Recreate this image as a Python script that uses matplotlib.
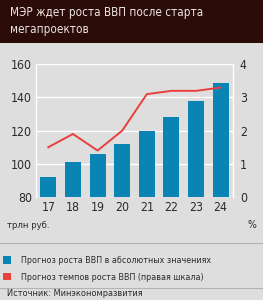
import matplotlib.pyplot as plt
from matplotlib.patches import Rectangle, Patch
from matplotlib.lines import Line2D

plt.rcParams['font.family'] = ['DejaVu Sans']
plt.rcParams['font.stretch'] = 'condensed'

# data
years = ['17', '18', '19', '20', '21', '22', '23', '24']
gdp_abs = [92, 101, 106, 112, 120, 128, 138, 149]      # трлн руб.
gdp_rate = [1.5, 1.9, 1.4, 2.0, 3.1, 3.2, 3.2, 3.3]    # %
left_ticks = [80, 100, 120, 140, 160]
right_ticks = [0, 1, 2, 3, 4]

title = 'МЭР ждет роста ВВП после старта\nмегапроектов'
legend_labels = ['Прогноз роста ВВП в абсолютных значениях',
                 'Прогноз темпов роста ВВП (правая шкала)']
source = 'Источник: Минэкономразвития'

BG = '#dedede'
BLUE = '#0a84b2'
RED = '#e8413c'
HEADER = '#2a0b08'
TXT = '#2b2b2b'

W, H = 263, 300
fig = plt.figure(figsize=(W / 100, H / 100), dpi=100)
fig.patch.set_facecolor(BG)

# header band
fig.add_artist(Rectangle((0, 1 - 43 / H), 1, 43 / H, transform=fig.transFigure,
                         facecolor=HEADER, edgecolor='none'))
fig.text(10 / W, 1 - 21 / H, title, color='#ece4e0', fontsize=8.4,
         va='center', ha='left', linespacing=1.45)

ax = fig.add_axes([36 / W, 1 - 197 / H, 197 / W, 132.7 / H])
ax.set_facecolor(BG)
x = range(len(years))
ax.bar(x, gdp_abs, width=0.65, color=BLUE, zorder=2)
ax.set_ylim(80, 160)
ax.set_xlim(-0.5, 7.5)
ax.set_yticks(left_ticks)
ax.set_xticks(list(x))
ax.set_xticklabels(years)
ax.yaxis.grid(True, color='white', lw=1.0, zorder=0)
ax.set_axisbelow(True)
for side in ['top', 'bottom']:
    ax.spines[side].set_visible(False)
for side in ['left', 'right']:
    ax.spines[side].set_color('white')
    ax.spines[side].set_linewidth(1.0)
ax.tick_params(length=0, labelsize=8.8, colors=TXT, pad=3)

ax2 = ax.twinx()
ax2.plot(list(x), gdp_rate, color=RED, lw=1.4, zorder=3)
ax2.set_ylim(0, 4)
ax2.set_yticks(right_ticks)
for s in ax2.spines.values():
    s.set_visible(False)
ax2.tick_params(length=0, labelsize=8.8, colors=TXT, pad=5)

fig.text(7 / W, 1 - 225 / H, 'трлн руб.', fontsize=6.8, color=TXT, va='center')
fig.text(256 / W, 1 - 225 / H, '%', fontsize=7.5, color=TXT, va='center', ha='right')

# separators
for yy in (243, 288):
    fig.add_artist(Line2D([0, 1], [1 - yy / H, 1 - yy / H], transform=fig.transFigure,
                          color='#b3b3b3', lw=0.8))

handles = [Patch(facecolor=BLUE, edgecolor='none'), Patch(facecolor=RED, edgecolor='none')]
fig.legend(handles, legend_labels, loc='upper left', bbox_to_anchor=(3 / W, 1 - 256 / H),
           frameon=False, fontsize=6.4, handlelength=0.85, handleheight=0.85,
           handletextpad=1.2, labelspacing=0.85, borderpad=0, borderaxespad=0,
           labelcolor=TXT)

fig.text(7 / W, 1 - 294 / H, source, fontsize=6.6, color=TXT, va='center')

fig.savefig('out.png', dpi=100, facecolor=BG)
